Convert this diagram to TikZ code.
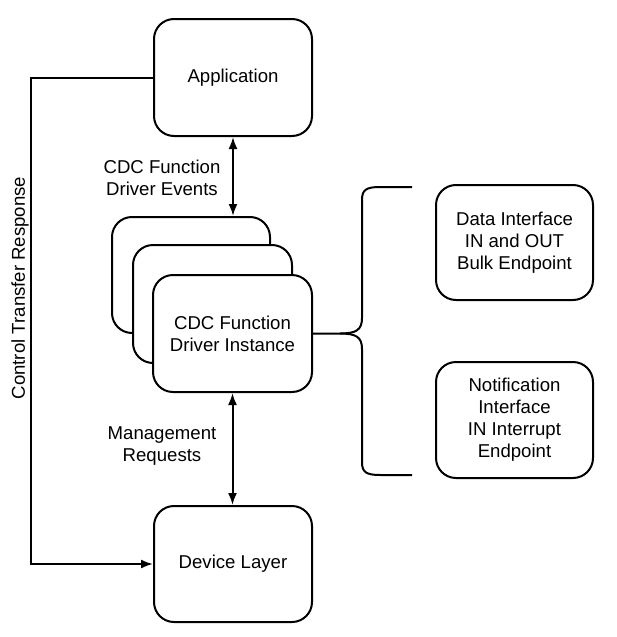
\documentclass[tikz,border=0pt]{standalone}
\usepackage{fontspec}
\setmainfont{Liberation Sans}
\usetikzlibrary{arrows.meta}
\begin{document}
\begin{tikzpicture}[x=1pt,y=-1pt,
  every node/.style={font=\fontsize{18.6}{22}\selectfont},
  blk/.style={draw,line width=2pt,rounded corners=20pt,fill=white,align=center,inner sep=0pt},
  lbl/.style={align=center,inner sep=0pt},
  conn/.style={line width=2pt}]
\useasboundingbox (0,0) rectangle (616,637);
\node[blk,minimum width=158pt,minimum height=117pt] (app) at (233,77.5) {Application};
\node[blk,minimum width=158pt,minimum height=116pt] (back) at (191,275) {};
\node[blk,minimum width=159pt,minimum height=118pt] (mid) at (212.5,304) {};
\node[blk,minimum width=159pt,minimum height=117pt] (front) at (232.5,333.5) {CDC Function\\Driver Instance};
\node[blk,minimum width=158pt,minimum height=116pt] (dev) at (233,564) {Device Layer};
\node[blk,minimum width=157pt,minimum height=115pt] (data) at (514.5,242.5) {Data Interface\\IN and OUT\\Bulk Endpoint};
\node[blk,minimum width=157pt,minimum height=116pt] (notif) at (514.5,420) {Notification\\Interface\\IN Interrupt\\Endpoint};
\node[lbl] (ev) at (162,178) {CDC Function\\Driver Events};
\node[lbl] (mg) at (162,446) {Management\\Requests};
\node[lbl,rotate=90] (ctr) at (20,288) {Control Transfer Response};
\draw[conn,{Latex[length=12pt,width=9pt]}-{Latex[length=12pt,width=9pt]}] (app.south) -- (app.south |- back.north);
\draw[conn,{Latex[length=12pt,width=9pt]}-{Latex[length=12pt,width=9pt]}] (front.south) -- (front.south |- dev.north);
\draw[conn,-{Latex[length=12pt,width=9pt]}] (app.west) -- ++(-122,0) |- (dev.west);
\coordinate (btop) at (412,187);
\coordinate (bbot) at (412,475);
\draw[conn] (front.east) -- (340,333.5) .. controls (356,333.5) and (362,330) .. (362,318) -- (362,200) .. controls (362,190) and (366,187) .. (380,187) -- (btop);
\draw[conn] (340,333.5) .. controls (356,333.5) and (362,337) .. (362,349) -- (362,462) .. controls (362,472) and (366,475) .. (380,475) -- (bbot);
\end{tikzpicture}
\end{document}
